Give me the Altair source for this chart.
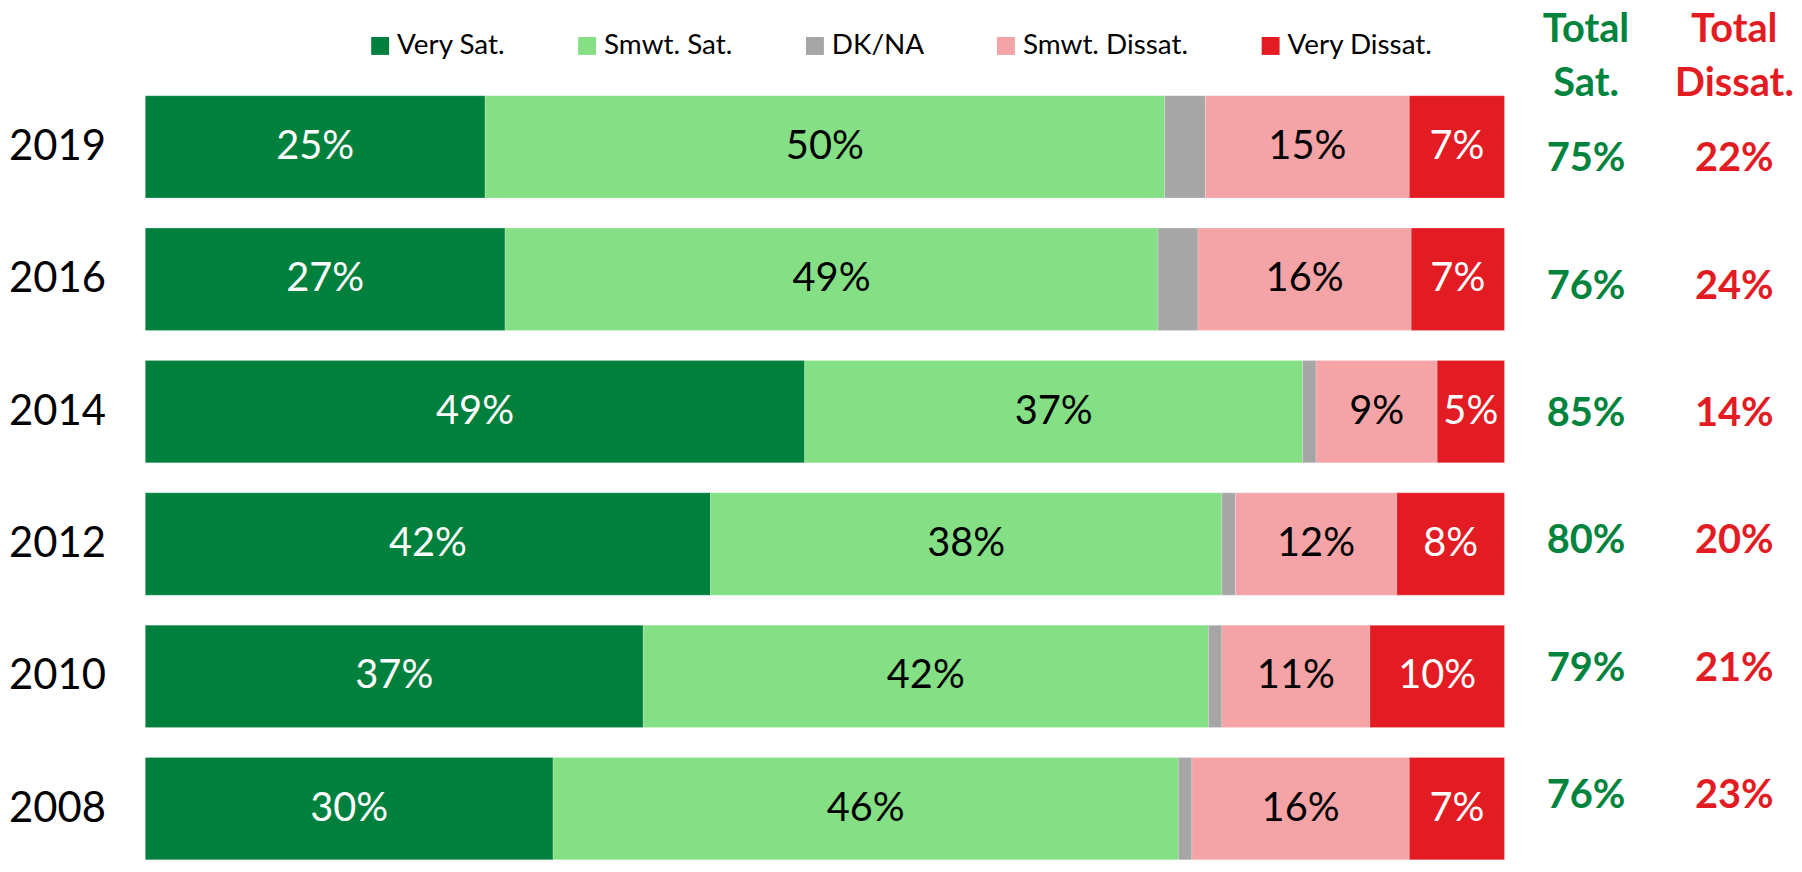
import altair as alt
import pandas as pd

years = ["2019", "2016", "2014", "2012", "2010", "2008"]
categories = ["Very Sat.", "Smwt. Sat.", "DK/NA", "Smwt. Dissat.", "Very Dissat."]
very_sat = [25, 27, 49, 42, 37, 30]
smwt_sat = [50, 49, 37, 38, 42, 46]
dk_na = [3, 3, 1, 1, 1, 1]
smwt_dissat = [15, 16, 9, 12, 11, 16]
very_dissat = [7, 7, 5, 8, 10, 7]
total_sat = [75, 76, 85, 80, 79, 76]
total_dissat = [22, 24, 14, 20, 21, 23]

colors = ["#00803D", "#85E085", "#A6A6A6", "#F4A4A7", "#E31C24"]
GREEN = "#00843D"
RED = "#E31C24"

series = [very_sat, smwt_sat, dk_na, smwt_dissat, very_dissat]
rows = []
for ci, (cat, vals) in enumerate(zip(categories, series)):
    for yr, v in zip(years, vals):
        rows.append({
            "year": yr, "category": cat, "value": v, "order": ci,
            "label": "" if cat == "DK/NA" else f"{v}%",
            "light": cat in ("Very Sat.", "Very Dissat."),
        })
df = pd.DataFrame(rows)
tot = pd.DataFrame({
    "year": years,
    "sat": [f"{v}%" for v in total_sat],
    "dissat": [f"{v}%" for v in total_dissat],
})

H = 768
yscale = alt.Scale(domain=years, paddingInner=0.227, paddingOuter=0)

base = alt.Chart(df).transform_stack(
    stack="value", groupby=["year"], as_=["x0", "x1"], offset="normalize",
    sort=[alt.SortField(field="order", order="ascending")],
)

bars = base.mark_bar(stroke="white", strokeWidth=0.4, strokeOpacity=0.5).encode(
    y=alt.Y("year:N", scale=yscale, title=None,
            axis=alt.Axis(domain=False, ticks=False, labelFont="Lato",
                          labelFontSize=42, labelColor="black", labelPadding=40)),
    x=alt.X("x0:Q", scale=alt.Scale(domain=[0, 1], nice=False), axis=None),
    x2="x1:Q",
    color=alt.Color(
        "category:N",
        scale=alt.Scale(domain=categories, range=colors),
        legend=alt.Legend(
            title=None, orient="none", legendX=222, legendY=-64,
            direction="horizontal",
            symbolType="square", symbolSize=324,
            symbolStrokeWidth=0, symbolOpacity=1,
            labelFont="Lato", labelFontSize=28, labelColor="black",
            labelOffset=3, columnPadding=68, padding=0, labelLimit=0,
        ),
    ),
)

text = base.transform_filter("datum.label != ''").transform_calculate(
    mid="(datum.x0 + datum.x1) / 2"
).mark_text(font="Lato", fontSize=40, baseline="middle").encode(
    y=alt.Y("year:N", scale=yscale),
    x=alt.X("mid:Q"),
    text="label:N",
    color=alt.condition("datum.light", alt.value("white"), alt.value("black")),
)

main = alt.layer(bars, text).properties(width=1366, height=H)

def total_col(field, color, header, w, dx):
    return alt.Chart(tot).mark_text(
        font="Lato", fontSize=40, fontWeight="bold", color=color,
        baseline="middle", dx=dx,
    ).encode(
        y=alt.Y("year:N", scale=yscale, axis=None),
        text=f"{field}:N",
    ).properties(
        width=w, height=H,
        title=alt.Title(header, color=color, font="Lato", fontSize=40,
                        fontWeight="bold", lineHeight=54, anchor="middle",
                        offset=-8, dx=dx),
    )

sat_col = total_col("sat", GREEN, ["Total", "Sat."], 152, 5)
dis_col = total_col("dissat", RED, ["Total", "Dissat."], 138, 9)

chart = alt.hconcat(main, sat_col, dis_col, spacing=0).properties(
    padding=0, background="white"
).configure_view(stroke=None)

chart.save("out.html", embed_options={"renderer": "svg", "actions": False})
